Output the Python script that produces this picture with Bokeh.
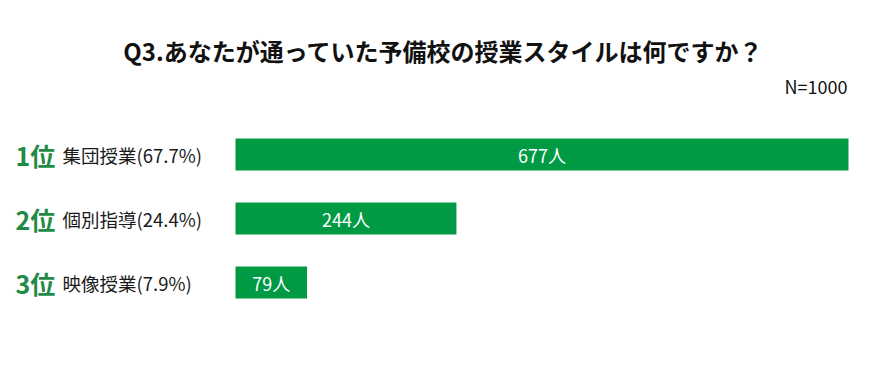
from bokeh.plotting import figure
from bokeh.models import Range1d, Label, LabelSet, ColumnDataSource
from bokeh.core.properties import value
from bokeh.embed import file_html
from bokeh.resources import INLINE

title_text = "Q3.あなたが通っていた予備校の授業スタイルは何ですか？"
n_text = "N=1000"
ranks = ["1位", "2位", "3位"]
categories = ["集団授業(67.7%)", "個別指導(24.4%)", "映像授業(7.9%)"]
counts = [677, 244, 79]
count_labels = ["677人", "244人", "79人"]
positions = [1, 2, 3]

W, H = 867, 376
bar_left_px = 235
px_per_unit = 613 / 677.0
row_px = 64.0
first_row_px = 154.0

x_start = -bar_left_px / px_per_unit
x_end = (W - bar_left_px) / px_per_unit
y_top = 1 - first_row_px / row_px
y_bottom = 1 + (H - first_row_px) / row_px

FONT = "Noto Sans CJK JP"
BAR = "#009a44"
RANKC = "#1e8a45"

p = figure(width=W, height=H, output_backend="svg", toolbar_location=None,
           x_range=Range1d(x_start, x_end), y_range=Range1d(y_bottom, y_top),
           min_border=0, outline_line_color=None)
p.axis.visible = False
p.grid.visible = False
p.background_fill_color = "white"
p.border_fill_color = "white"

src = ColumnDataSource(dict(y=positions, right=counts, mid=[c / 2 for c in counts],
                            lab=count_labels, rank=ranks, cat=categories))

p.hbar(y="y", left=0, right="right", height=0.5, source=src,
       fill_color=BAR, line_color=None)

p.text(x="mid", y="y", text="lab", source=src, text_color="white",
       text_font=value(FONT), text_font_size="18px",
       text_align="center", text_baseline="middle")

rank_ls = LabelSet(x=15, y="y", x_units="screen", text="rank", source=src,
                   text_color=RANKC, text_font=value(FONT), text_font_size="25px",
                   text_font_style="bold", text_align="left", text_baseline="middle")
cat_ls = LabelSet(x=62, y="y", x_units="screen", text="cat", source=src,
                  text_color="#1a1a1a", text_font=value(FONT), text_font_size="18.5px",
                  text_align="left", text_baseline="middle")
p.add_layout(rank_ls)
p.add_layout(cat_ls)

p.add_layout(Label(x=443, y=H - 50, x_units="screen", y_units="screen",
                   text=title_text, text_font=FONT, text_font_size="24px",
                   text_font_style="bold", text_color="#111111",
                   text_align="center", text_baseline="middle"))
p.add_layout(Label(x=847, y=H - 85, x_units="screen", y_units="screen",
                   text=n_text, text_font=FONT, text_font_size="18px",
                   text_color="#111111", text_align="right", text_baseline="middle"))

open("out.html", "w").write(file_html(p, INLINE))
